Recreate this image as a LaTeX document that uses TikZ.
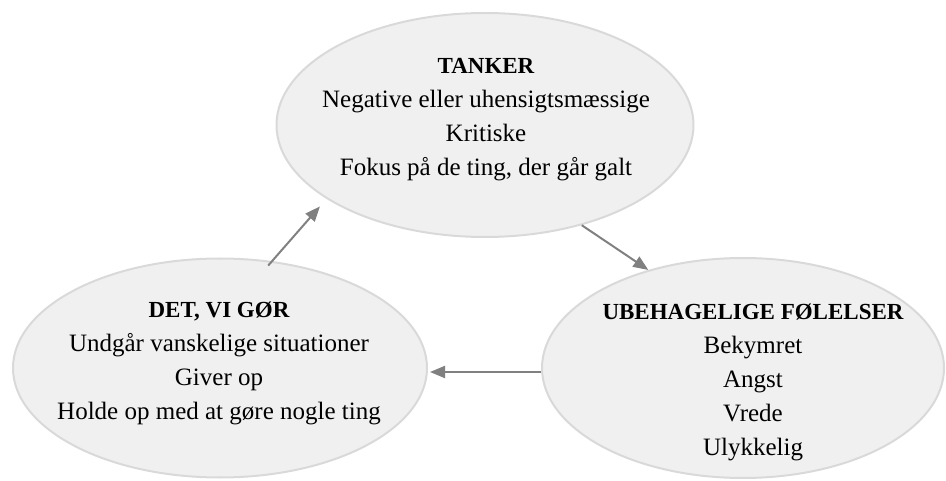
\documentclass[tikz,border=0pt]{standalone}
\usepackage{fontspec}
\setmainfont{Liberation Serif}
\usetikzlibrary{arrows.meta,shapes.geometric}
\definecolor{bubblefill}{HTML}{F0F0F0}
\definecolor{bubbleline}{HTML}{D9D9D9}
\definecolor{arrowgray}{HTML}{808080}
\newcommand{\bubblehead}[1]{{\fontsize{23}{34}\selectfont\bfseries #1}}
\tikzstyle{bubble}=[ellipse,draw=bubbleline,fill=bubblefill,line width=2pt,inner sep=0pt]
\tikzstyle{bubbletext}=[align=center,anchor=north,inner sep=0pt,font=\fontsize{25}{34}\selectfont]
\tikzstyle{cyclearrow}=[draw=arrowgray,line width=2pt,-{Triangle[length=15pt,width=12pt]}]

\begin{document}
\begin{tikzpicture}[x=1pt,y=-1pt]
  \useasboundingbox (0,0) rectangle (946,481);
  % the three bubbles
  \node [bubble,minimum width=417pt,minimum height=224pt] (tanker) at (485,125) {};
  \node [bubble,minimum width=414pt,minimum height=219pt] (dets) at (220,368) {};
  \node [bubble,minimum width=402pt,minimum height=220pt] (ubehag) at (743,368) {};
  % their texts
  \node [bubbletext] (tankertxt) at (486,58) {\bubblehead{TANKER}\\
    Negative eller uhensigtsmæssige\\ Kritiske\\ Fokus på de ting, der går galt};
  \node [bubbletext] (detstxt) at (219,302) {\bubblehead{DET, VI GØR}\\
    Undgår vanskelige situationer\\ Giver op\\ Holde op med at gøre nogle ting};
  \node [bubbletext] (ubehagtxt) at (753,304) {\bubblehead{UBEHAGELIGE FØLELSER}\\
    Bekymret\\ Angst\\ Vrede\\ Ulykkelig};
  % the cycle
  \draw [cyclearrow,shorten <=-6pt,shorten >=10pt] (dets.64) -- (tanker.205);
  \draw [cyclearrow] (tanker.314) -- (ubehag.134);
  \draw [cyclearrow] ([yshift=-4pt]ubehag.west) -- ([yshift=-4pt,xshift=2pt]dets.east);
\end{tikzpicture}
\end{document}
